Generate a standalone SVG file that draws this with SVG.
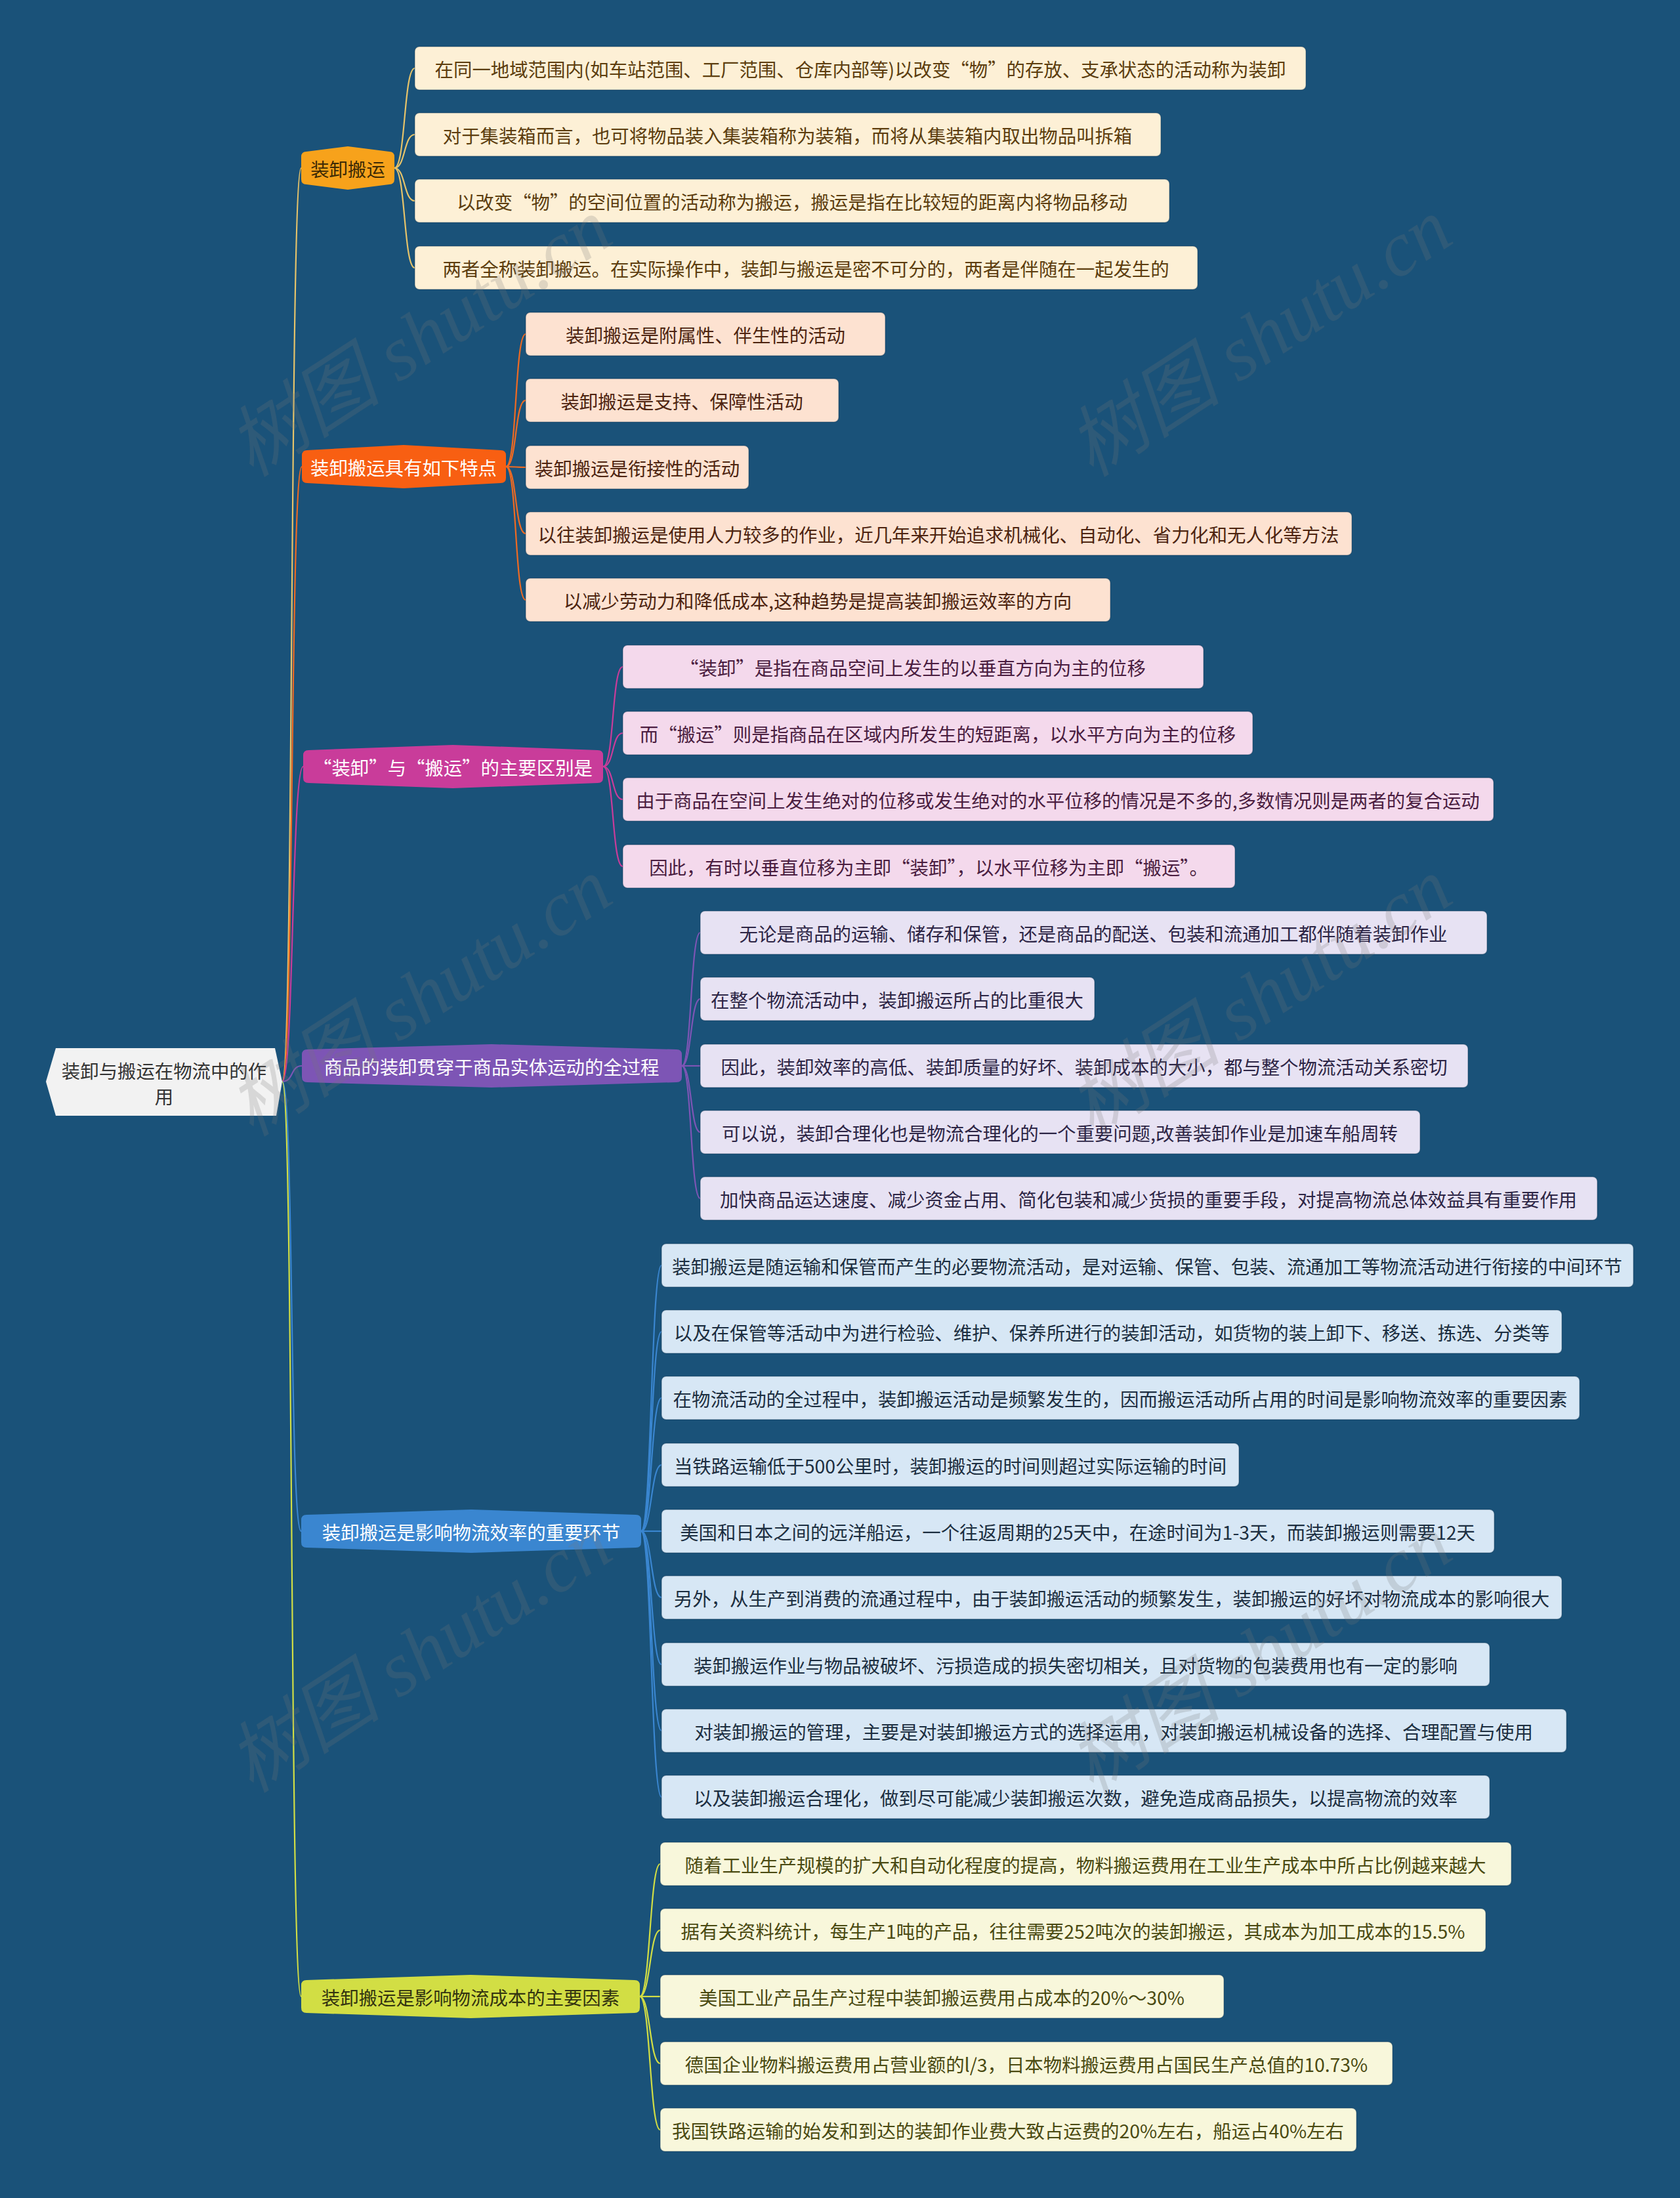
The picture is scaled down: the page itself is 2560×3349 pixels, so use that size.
<svg xmlns="http://www.w3.org/2000/svg" width="2560" height="3349" viewBox="0 0 2560 3349">
<style>
text{font-family:"Noto Sans CJK SC","Noto Sans",sans-serif;font-size:28.4px;dominant-baseline:central;text-anchor:middle}
.c{fill:none;stroke-width:2.2}
.g1 rect{fill:#fdf0d6}.g1 text{fill:#5c3d0e}
.g2 rect{fill:#fde2d1}.g2 text{fill:#4d2410}
.g3 rect{fill:#f4d9ec}.g3 text{fill:#4a1d40}
.g4 rect{fill:#e7e2f3}.g4 text{fill:#2d2545}
.g5 rect{fill:#d7e7f5}.g5 text{fill:#1c2e40}
.g6 rect{fill:#f8f7db}.g6 text{fill:#4a4a12}
.leaf rect{stroke:#0e3350;stroke-opacity:.35;stroke-width:1.5}
.wm{font-family:"Liberation Serif","Noto Sans CJK SC",serif;font-style:italic;font-size:118px;fill:#777;fill-opacity:.22;text-anchor:middle}
</style>
<rect width="2560" height="3349" fill="#1a5279"/>
<g id="connectors">
<path class="c" stroke="#e6c36a" d="M430 1648 C448 1648 441 256 459 256"/>
<path class="c" stroke="#ef6a22" d="M430 1648 C448 1648 442 711 460 711"/>
<path class="c" stroke="#c93c9a" d="M430 1648 C448 1648 444 1168 462 1168"/>
<path class="c" stroke="#7d55b5" d="M430 1648 C448 1648 442 1624 460 1624"/>
<path class="c" stroke="#3a86d0" d="M430 1648 C448 1648 441 2333 459 2333"/>
<path class="c" stroke="#d2de44" d="M430 1648 C448 1648 441 3042 459 3042"/>
<g stroke="#e6c36a" class="c">
<path class="c" d="M601 256 C618 256 615 104 632 104"/>
<path class="c" d="M601 256 C618 256 615 205 632 205"/>
<path class="c" d="M601 256 C618 256 615 306 632 306"/>
<path class="c" d="M601 256 C618 256 615 408 632 408"/>
</g>
<g stroke="#ef6a22" class="c">
<path class="c" d="M771 711 C788 711 784 509 801 509"/>
<path class="c" d="M771 711 C788 711 784 610 801 610"/>
<path class="c" d="M771 711 C788 711 784 712 801 712"/>
<path class="c" d="M771 711 C788 711 784 813 801 813"/>
<path class="c" d="M771 711 C788 711 784 914 801 914"/>
</g>
<g stroke="#c93c9a" class="c">
<path class="c" d="M919 1168 C936 1168 932 1016 949 1016"/>
<path class="c" d="M919 1168 C936 1168 932 1117 949 1117"/>
<path class="c" d="M919 1168 C936 1168 932 1218 949 1218"/>
<path class="c" d="M919 1168 C936 1168 932 1320 949 1320"/>
</g>
<g stroke="#7d55b5" class="c">
<path class="c" d="M1039 1624 C1054 1624 1052 1421 1067 1421"/>
<path class="c" d="M1039 1624 C1054 1624 1052 1522 1067 1522"/>
<path class="c" d="M1039 1624 C1054 1624 1052 1624 1067 1624"/>
<path class="c" d="M1039 1624 C1054 1624 1052 1725 1067 1725"/>
<path class="c" d="M1039 1624 C1054 1624 1052 1826 1067 1826"/>
</g>
<g stroke="#3a86d0" class="c">
<path class="c" d="M977 2333 C993 2333 992 1928 1008 1928"/>
<path class="c" d="M977 2333 C993 2333 992 2029 1008 2029"/>
<path class="c" d="M977 2333 C993 2333 992 2130 1008 2130"/>
<path class="c" d="M977 2333 C993 2333 992 2232 1008 2232"/>
<path class="c" d="M977 2333 C993 2333 992 2333 1008 2333"/>
<path class="c" d="M977 2333 C993 2333 992 2434 1008 2434"/>
<path class="c" d="M977 2333 C993 2333 992 2536 1008 2536"/>
<path class="c" d="M977 2333 C993 2333 992 2637 1008 2637"/>
<path class="c" d="M977 2333 C993 2333 992 2738 1008 2738"/>
</g>
<g stroke="#d2de44" class="c">
<path class="c" d="M975 3042 C991 3042 990 2840 1006 2840"/>
<path class="c" d="M975 3042 C991 3042 990 2941 1006 2941"/>
<path class="c" d="M975 3042 C991 3042 990 3042 1006 3042"/>
<path class="c" d="M975 3042 C991 3042 990 3144 1006 3144"/>
<path class="c" d="M975 3042 C991 3042 990 3245 1006 3245"/>
</g>
</g>
<g id="root">
<path d="M70 1648 L85 1597 L419 1597 L430 1648 L421 1700 L85 1700 Z" fill="#f2f2f2"/>
<text x="250" y="1630" fill="#333">装卸与搬运在物流中的作</text>
<text x="250" y="1669" fill="#333">用</text>
</g>
<g id="n1">
<path d="M459 239 Q459 231 467 231 L530 223 L593 231 Q601 231 601 239 L601 273 Q601 281 593 281 L530 289 L467 281 Q459 281 459 273 Z" fill="#f7a21b"/>
<text x="530" y="256" fill="#3d2a05">装卸搬运</text>
</g>
<g id="n2">
<path d="M460 694 Q460 686 468 686 L615 678 L763 686 Q771 686 771 694 L771 728 Q771 736 763 736 L615 744 L468 736 Q460 736 460 728 Z" fill="#f85f12"/>
<text x="615" y="711" fill="#fff">装卸搬运具有如下特点</text>
</g>
<g id="n3">
<path d="M462 1151 Q462 1143 470 1143 L690 1135 L911 1143 Q919 1143 919 1151 L919 1185 Q919 1193 911 1193 L690 1201 L470 1193 Q462 1193 462 1185 Z" fill="#c93c9a"/>
<text x="690" y="1168" fill="#fff">“装卸”与“搬运”的主要区别是</text>
</g>
<g id="n4">
<path d="M460 1607 Q460 1599 468 1599 L749 1591 L1031 1599 Q1039 1599 1039 1607 L1039 1641 Q1039 1649 1031 1649 L749 1657 L468 1649 Q460 1649 460 1641 Z" fill="#7d55b5"/>
<text x="749" y="1624" fill="#fff">商品的装卸贯穿于商品实体运动的全过程</text>
</g>
<g id="n5">
<path d="M459 2316 Q459 2308 467 2308 L718 2300 L969 2308 Q977 2308 977 2316 L977 2350 Q977 2358 969 2358 L718 2366 L467 2358 Q459 2358 459 2350 Z" fill="#3a86d0"/>
<text x="718" y="2333" fill="#fff">装卸搬运是影响物流效率的重要环节</text>
</g>
<g id="n6">
<path d="M459 3025 Q459 3017 467 3017 L717 3009 L967 3017 Q975 3017 975 3025 L975 3059 Q975 3067 967 3067 L717 3075 L467 3067 Q459 3067 459 3059 Z" fill="#d2de44"/>
<text x="717" y="3042" fill="#333310">装卸搬运是影响物流成本的主要因素</text>
</g>
<g class="g1 leaf">
<g id="l0"><rect x="632" y="71" width="1358" height="66" rx="7"/><text x="1311" y="104">在同一地域范围内(如车站范围、工厂范围、仓库内部等)以改变“物”的存放、支承状态的活动称为装卸</text></g>
<g id="l1"><rect x="632" y="172" width="1137" height="66" rx="7"/><text x="1200" y="205">对于集装箱而言，也可将物品装入集装箱称为装箱，而将从集装箱内取出物品叫拆箱</text></g>
<g id="l2"><rect x="632" y="273" width="1150" height="66" rx="7"/><text x="1207" y="306">以改变“物”的空间位置的活动称为搬运，搬运是指在比较短的距离内将物品移动</text></g>
<g id="l3"><rect x="632" y="375" width="1193" height="66" rx="7"/><text x="1228" y="408">两者全称装卸搬运。在实际操作中，装卸与搬运是密不可分的，两者是伴随在一起发生的</text></g>
</g>
<g class="g2 leaf">
<g id="l4"><rect x="801" y="476" width="548" height="66" rx="7"/><text x="1075" y="509">装卸搬运是附属性、伴生性的活动</text></g>
<g id="l5"><rect x="801" y="577" width="477" height="66" rx="7"/><text x="1039" y="610">装卸搬运是支持、保障性活动</text></g>
<g id="l6"><rect x="801" y="679" width="340" height="66" rx="7"/><text x="971" y="712">装卸搬运是衔接性的活动</text></g>
<g id="l7"><rect x="801" y="780" width="1259" height="66" rx="7"/><text x="1430" y="813">以往装卸搬运是使用人力较多的作业，近几年来开始追求机械化、自动化、省力化和无人化等方法</text></g>
<g id="l8"><rect x="801" y="881" width="891" height="66" rx="7"/><text x="1246" y="914">以减少劳动力和降低成本,这种趋势是提高装卸搬运效率的方向</text></g>
</g>
<g class="g3 leaf">
<g id="l9"><rect x="949" y="983" width="885" height="66" rx="7"/><text x="1391" y="1016">“装卸”是指在商品空间上发生的以垂直方向为主的位移</text></g>
<g id="l10"><rect x="949" y="1084" width="960" height="66" rx="7"/><text x="1429" y="1117">而“搬运”则是指商品在区域内所发生的短距离，以水平方向为主的位移</text></g>
<g id="l11"><rect x="949" y="1185" width="1327" height="66" rx="7"/><text x="1612" y="1218">由于商品在空间上发生绝对的位移或发生绝对的水平位移的情况是不多的,多数情况则是两者的复合运动</text></g>
<g id="l12"><rect x="949" y="1287" width="933" height="66" rx="7"/><text x="1415" y="1320">因此，有时以垂直位移为主即“装卸”，以水平位移为主即“搬运”。</text></g>
</g>
<g class="g4 leaf">
<g id="l13"><rect x="1067" y="1388" width="1199" height="66" rx="7"/><text x="1666" y="1421">无论是商品的运输、储存和保管，还是商品的配送、包装和流通加工都伴随着装卸作业</text></g>
<g id="l14"><rect x="1067" y="1489" width="601" height="66" rx="7"/><text x="1367" y="1522">在整个物流活动中，装卸搬运所占的比重很大</text></g>
<g id="l15"><rect x="1067" y="1591" width="1170" height="66" rx="7"/><text x="1652" y="1624">因此，装卸效率的高低、装卸质量的好坏、装卸成本的大小，都与整个物流活动关系密切</text></g>
<g id="l16"><rect x="1067" y="1692" width="1097" height="66" rx="7"/><text x="1615" y="1725">可以说，装卸合理化也是物流合理化的一个重要问题,改善装卸作业是加速车船周转</text></g>
<g id="l17"><rect x="1067" y="1793" width="1367" height="66" rx="7"/><text x="1750" y="1826">加快商品运达速度、减少资金占用、简化包装和减少货损的重要手段，对提高物流总体效益具有重要作用</text></g>
</g>
<g class="g5 leaf">
<g id="l18"><rect x="1008" y="1895" width="1481" height="66" rx="7"/><text x="1748" y="1928">装卸搬运是随运输和保管而产生的必要物流活动，是对运输、保管、包装、流通加工等物流活动进行衔接的中间环节</text></g>
<g id="l19"><rect x="1008" y="1996" width="1372" height="66" rx="7"/><text x="1694" y="2029">以及在保管等活动中为进行检验、维护、保养所进行的装卸活动，如货物的装上卸下、移送、拣选、分类等</text></g>
<g id="l20"><rect x="1008" y="2097" width="1399" height="66" rx="7"/><text x="1707" y="2130">在物流活动的全过程中，装卸搬运活动是频繁发生的，因而搬运活动所占用的时间是影响物流效率的重要因素</text></g>
<g id="l21"><rect x="1008" y="2199" width="880" height="66" rx="7"/><text x="1448" y="2232">当铁路运输低于500公里时，装卸搬运的时间则超过实际运输的时间</text></g>
<g id="l22"><rect x="1008" y="2300" width="1269" height="66" rx="7"/><text x="1642" y="2333">美国和日本之间的远洋船运，一个往返周期的25天中，在途时间为1-3天，而装卸搬运则需要12天</text></g>
<g id="l23"><rect x="1008" y="2401" width="1372" height="66" rx="7"/><text x="1694" y="2434">另外，从生产到消费的流通过程中，由于装卸搬运活动的频繁发生，装卸搬运的好坏对物流成本的影响很大</text></g>
<g id="l24"><rect x="1008" y="2503" width="1262" height="66" rx="7"/><text x="1639" y="2536">装卸搬运作业与物品被破坏、污损造成的损失密切相关，且对货物的包装费用也有一定的影响</text></g>
<g id="l25"><rect x="1008" y="2604" width="1379" height="66" rx="7"/><text x="1697" y="2637">对装卸搬运的管理，主要是对装卸搬运方式的选择运用，对装卸搬运机械设备的选择、合理配置与使用</text></g>
<g id="l26"><rect x="1008" y="2705" width="1262" height="66" rx="7"/><text x="1639" y="2738">以及装卸搬运合理化，做到尽可能减少装卸搬运次数，避免造成商品损失，以提高物流的效率</text></g>
</g>
<g class="g6 leaf">
<g id="l27"><rect x="1006" y="2807" width="1297" height="66" rx="7"/><text x="1654" y="2840">随着工业生产规模的扩大和自动化程度的提高，物料搬运费用在工业生产成本中所占比例越来越大</text></g>
<g id="l28"><rect x="1006" y="2908" width="1258" height="66" rx="7"/><text x="1635" y="2941">据有关资料统计，每生产1吨的产品，往往需要252吨次的装卸搬运，其成本为加工成本的15.5%</text></g>
<g id="l29"><rect x="1006" y="3009" width="859" height="66" rx="7"/><text x="1435" y="3042">美国工业产品生产过程中装卸搬运费用占成本的20%～30%</text></g>
<g id="l30"><rect x="1006" y="3111" width="1116" height="66" rx="7"/><text x="1564" y="3144">德国企业物料搬运费用占营业额的l/3，日本物料搬运费用占国民生产总值的10.73%</text></g>
<g id="l31"><rect x="1006" y="3212" width="1061" height="66" rx="7"/><text x="1536" y="3245">我国铁路运输的始发和到达的装卸作业费大致占运费的20%左右，船运占40%左右</text></g>
</g>
<g id="watermarks">
<text class="wm" transform="translate(640 515) rotate(-33)">树图 shutu.cn</text>
<text class="wm" transform="translate(1920 515) rotate(-33)">树图 shutu.cn</text>
<text class="wm" transform="translate(640 1520) rotate(-33)">树图 shutu.cn</text>
<text class="wm" transform="translate(1920 1520) rotate(-33)">树图 shutu.cn</text>
<text class="wm" transform="translate(640 2520) rotate(-33)">树图 shutu.cn</text>
<text class="wm" transform="translate(1920 2520) rotate(-33)">树图 shutu.cn</text>
</g>
</svg>
